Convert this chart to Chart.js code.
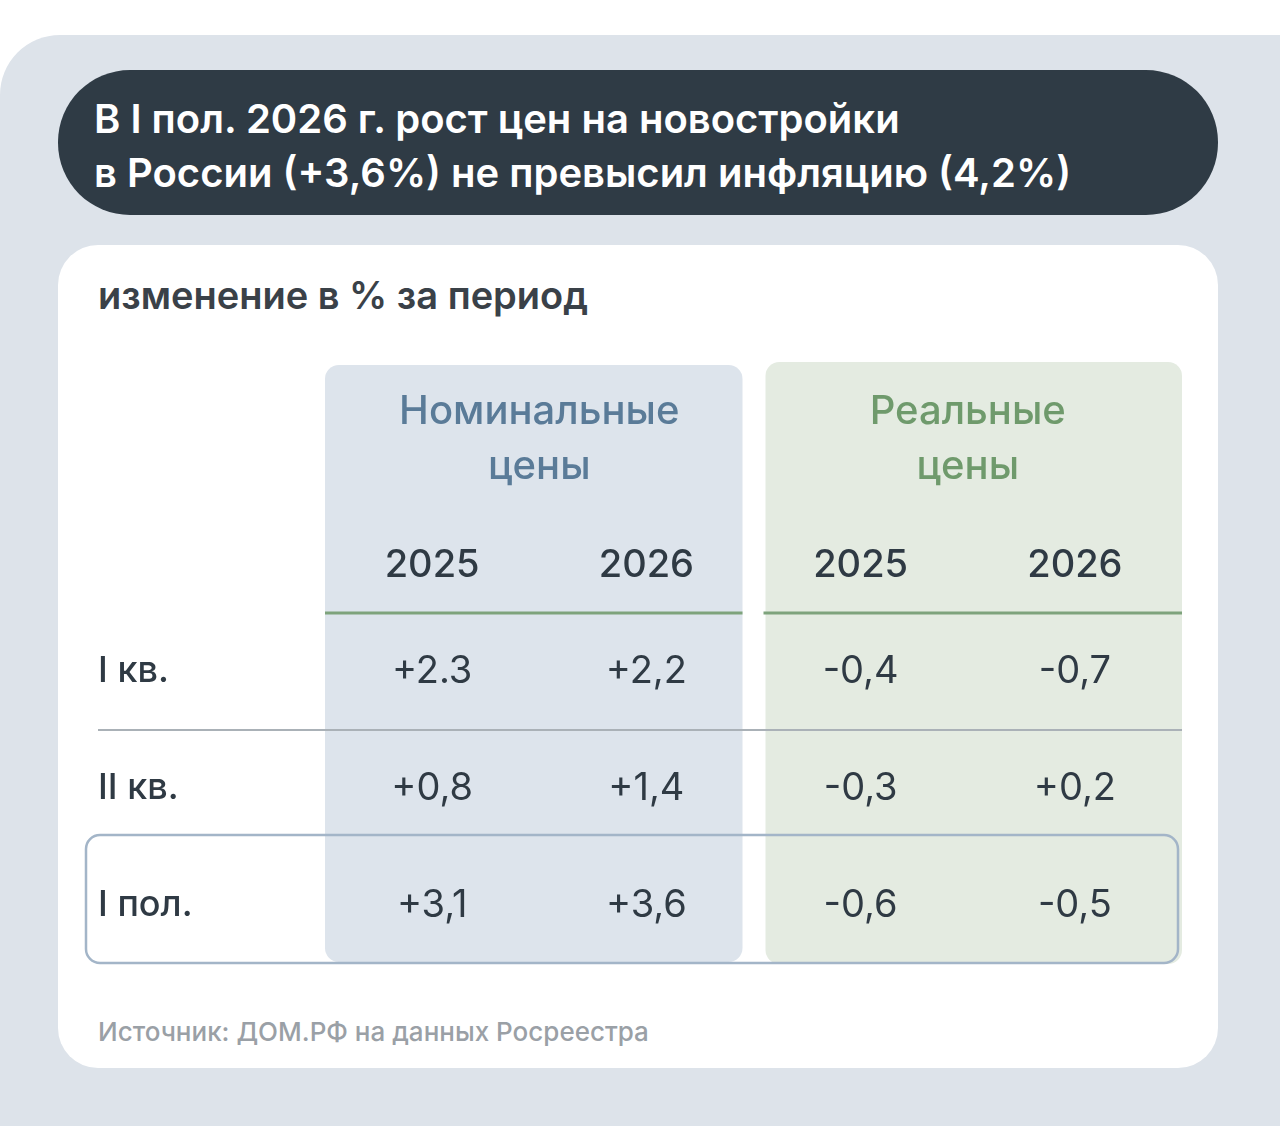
<!DOCTYPE html>
<html><head><meta charset="utf-8">
<script src="https://cdn.jsdelivr.net/npm/chart.js@4"></script>
<style>
body{margin:0;width:1280px;height:1126px;background:#fff;font-family:Inter,"Noto Sans",sans-serif;overflow:hidden;position:relative}
#bg{position:absolute;left:0;top:35px;width:1280px;height:1091px;background:#dde3ea;border-top-left-radius:60px}
#title{position:absolute;left:58px;top:70px;width:1160px;height:145px;background:#2f3b45;border-radius:72px;color:#fff;box-sizing:border-box;padding:22px 0 0 36px;font-size:40px;font-weight:600;line-height:54px}
#card{position:absolute;left:58px;top:245px;width:1160px;height:823px;background:#fff;border-radius:40px}
#sub{position:absolute;left:98px;top:272px;font-size:38px;font-weight:600;color:#3a4148}
#src{position:absolute;left:98px;top:1016px;font-size:26px;font-weight:500;color:#9aa0a6}
canvas{position:absolute;left:0;top:0}
</style></head><body>
<div id="bg"></div>
<div id="title">В I пол. 2026 г. рост цен на новостройки<br>в России (+3,6%) не превысил инфляцию (4,2%)</div>
<div id="card"></div>
<div id="sub">изменение в % за период</div>
<div id="src">Источник: ДОМ.РФ на данных Росреестра</div>
<canvas id="c" width="1280" height="1126"></canvas>
<script>
const groups=["Номинальные\nцены","Реальные\nцены"];
const years=["2025","2026","2025","2026"];
const rows=["I кв.","II кв.","I пол."];
const nominal2025=["+2.3","+0,8","+3,1"];
const nominal2026=["+2,2","+1,4","+3,6"];
const real2025=["-0,4","-0,3","-0,6"];
const real2026=["-0,7","+0,2","-0,5"];
const cols=[nominal2025,nominal2026,real2025,real2026];

function rr(ctx,x,y,w,h,r){ctx.beginPath();ctx.roundRect(x,y,w,h,r);}
const tablePlugin={id:'table',beforeDatasetsDraw(chart){
  const ctx=chart.ctx,x=chart.scales.x,y=chart.scales.y;
  const cw=x.getPixelForValue(1)-x.getPixelForValue(0);
  const rh=y.getPixelForValue(1)-y.getPixelForValue(0);
  const top=y.getPixelForValue(0)-rh/2, bot=y.getPixelForValue(2)+rh/2;
  ctx.save();
  ctx.fillStyle='#dde4ec';rr(ctx,x.getPixelForValue(0)-cw/2,365,2*cw-11,bot-2-365,14);ctx.fill();
  ctx.fillStyle='#e4ebe1';rr(ctx,x.getPixelForValue(2)-cw/2+12,362,2*cw-12,bot-362,14);ctx.fill();
  // header lines
  ctx.strokeStyle='#7ea37c';ctx.lineWidth=3;
  ctx.beginPath();ctx.moveTo(x.getPixelForValue(0)-cw/2,top);ctx.lineTo(x.getPixelForValue(1)+cw/2-11,top);
  ctx.moveTo(x.getPixelForValue(2)-cw/2+10,top);ctx.lineTo(x.getPixelForValue(3)+cw/2,top);ctx.stroke();
  // row separator
  ctx.strokeStyle='#aab1b7';ctx.lineWidth=2;
  ctx.beginPath();ctx.moveTo(98,top+rh);ctx.lineTo(x.getPixelForValue(3)+cw/2,top+rh);ctx.stroke();
  // highlight box
  ctx.strokeStyle='#a3b5c8';ctx.lineWidth=2.5;
  rr(ctx,86,top+2*rh-12,1092,rh+11,14);ctx.stroke();
  ctx.textAlign='center';ctx.textBaseline='middle';
  ctx.font='500 40px Inter, "Noto Sans"';
  groups.forEach((g,i)=>{ctx.fillStyle=i?'#6f9a6c':'#5a7b98';
    const cx=(x.getPixelForValue(2*i)+x.getPixelForValue(2*i+1))/2;
    g.split('\n').forEach((l,k)=>ctx.fillText(l,cx,412+k*55));});
  ctx.fillStyle='#2f3a44';ctx.font='500 38px Inter, "Noto Sans"';
  years.forEach((t,i)=>ctx.fillText(t,x.getPixelForValue(i),566));
  ctx.font='400 38px Inter, "Noto Sans"';
  cols.forEach((c,i)=>c.forEach((v,j)=>ctx.fillText(v,x.getPixelForValue(i),y.getPixelForValue(j))));
  ctx.textAlign='left';ctx.font='500 36px Inter, "Noto Sans"';
  rows.forEach((r,j)=>ctx.fillText(r,98,y.getPixelForValue(j)));
  ctx.restore();
}};
new Chart(document.getElementById('c'),{type:'line',
 data:{labels:years.map((_,i)=>i),datasets:[{data:[],pointRadius:0,showLine:false}]},
 options:{responsive:false,animation:false,devicePixelRatio:1,
  layout:{padding:{left:325,right:98,top:613,bottom:162}},
  plugins:{legend:{display:false},tooltip:{enabled:false}},
  scales:{x:{type:'category',labels:[0,1,2,3],offset:true,display:false},
          y:{type:'category',labels:[0,1,2],offset:true,display:false}}},
 plugins:[tablePlugin]});
</script></body></html>
